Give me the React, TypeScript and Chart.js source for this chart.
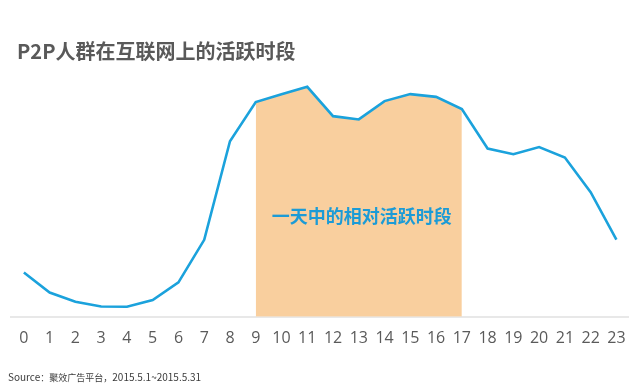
import React, { useEffect, useRef } from "react";
import { Chart, registerables } from "chart.js";

Chart.register(...registerables);

const hours: number[] = [0, 1, 2, 3, 4, 5, 6, 7, 8, 9, 10, 11, 12, 13, 14, 15, 16, 17, 18, 19, 20, 21, 22, 23];
const activity: number[] = [17.7, 9.7, 6.0, 4.1, 4.0, 6.7, 13.7, 30.7, 70.0, 85.6, 88.7, 91.7, 80.0, 78.7, 86.0, 88.8, 87.7, 82.8, 67.1, 64.8, 67.7, 63.5, 49.7, 30.8];
const peakStart = 9;
const peakEnd = 17;
const titleText = "P2P人群在互联网上的活跃时段";
const bandLabel = "一天中的相对活跃时段";
const sourceLabel = "Source";
const sourceName = "聚效广告平台";
const sourceRange = "2015.5.1~2015.5.31";

const LINE_COLOR = "#1ba2dc";
const BAND_COLOR = "#f9cf9e";
const LABEL_COLOR = "#1c9bd6";
const CJK = '"Noto Sans CJK SC", "Noto Sans", sans-serif';

export default function App() {
  const canvasRef = useRef<HTMLCanvasElement | null>(null);

  useEffect(() => {
    if (!canvasRef.current) return;
    const linePoints = hours.map((h, i) => ({ x: h, y: activity[i] }));
    const bandPoints = linePoints.filter((p) => p.x >= peakStart && p.x <= peakEnd);

    const bandLabelPlugin = {
      id: "bandLabel",
      afterDatasetsDraw(chart: any) {
        const { ctx, scales } = chart;
        const x = scales.x.getPixelForValue((peakStart + peakEnd) / 2);
        const y = scales.y.getPixelForValue(40);
        ctx.save();
        ctx.font = `bold 18px ${CJK}`;
        ctx.fillStyle = LABEL_COLOR;
        ctx.textAlign = "center";
        ctx.textBaseline = "middle";
        ctx.fillText(bandLabel, x + 3, y);
        ctx.restore();
      },
    };

    const chart = new Chart(canvasRef.current, {
      type: "line",
      data: {
        datasets: [
          {
            data: linePoints,
            borderColor: LINE_COLOR,
            borderWidth: 2.6,
            pointRadius: 0,
            tension: 0,
            fill: false,
            order: 1,
          },
          {
            data: bandPoints,
            borderWidth: 0,
            borderColor: "rgba(0,0,0,0)",
            backgroundColor: BAND_COLOR,
            pointRadius: 0,
            tension: 0,
            fill: "origin",
            order: 2,
          },
        ],
      },
      options: {
        animation: false,
        responsive: true,
        maintainAspectRatio: false,
        layout: { padding: { top: 66, left: 11, right: 12, bottom: 28 } },
        plugins: {
          legend: { display: false },
          tooltip: { enabled: false },
          title: { display: false },
        },
        scales: {
          x: {
            type: "linear",
            min: -0.5,
            max: 23.45,
            grid: { display: false, drawTicks: false },
            border: { display: true, color: "#e8e8e8", width: 2 },
            afterBuildTicks: (axis: any) => {
              axis.ticks = hours.map((h) => ({ value: h }));
            },
            ticks: {
              autoSkip: false,
              maxRotation: 0,
              padding: 12,
              color: "#5a5a5a",
              font: { family: '"Open Sans", sans-serif', size: 16, lineHeight: 1.2 },
              callback: (v: any) => String(v),
            },
          },
          y: {
            display: false,
            min: 0,
            max: 100,
          },
        },
      },
      plugins: [bandLabelPlugin],
    });
    return () => chart.destroy();
  }, []);

  return (
    <div style={{ position: "absolute", left: 0, top: 0, width: 640, height: 388, background: "#fff", overflow: "hidden" }}>
      <div style={{ position: "absolute", left: 0, top: 0, width: 640, height: 388 }}>
        <canvas ref={canvasRef} />
      </div>
      <div
        style={{
          position: "absolute",
          left: 17,
          top: 41,
          fontFamily: CJK,
          fontWeight: 700,
          fontSize: 20,
          lineHeight: "20px",
          color: "#595959",
          whiteSpace: "nowrap",
        }}
      >
        {titleText}
      </div>
      <div
        style={{
          position: "absolute",
          left: 8,
          top: 371,
          fontFamily: CJK,
          fontSize: 10,
          lineHeight: "12px",
          color: "#3a3a3a",
          whiteSpace: "nowrap",
        }}
      >
        {sourceLabel}
        <span style={{ fontSize: 9 }}>：{sourceName}，</span>
        {sourceRange}
      </div>
    </div>
  );
}
